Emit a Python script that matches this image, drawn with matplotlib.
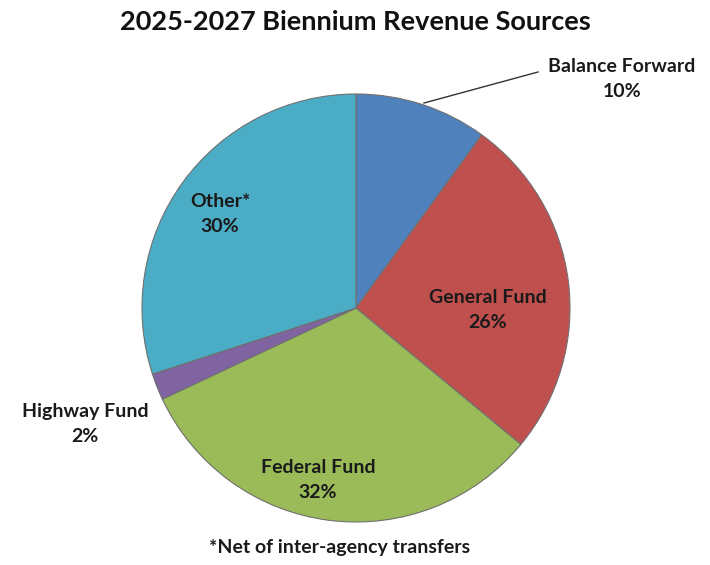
import matplotlib.pyplot as plt

# revenue sources, percent of total (clockwise from 12 o'clock)
sources = ["Balance Forward", "General Fund", "Federal Fund", "Highway Fund", "Other*"]
shares = [10, 26, 32, 2, 30]
colors = ["#4F81BD", "#C0504D", "#9BBB59", "#8064A2", "#4BACC6"]

plt.rcParams['font.family'] = ['Lato', 'DejaVu Sans']

W, H = 710, 565
fig = plt.figure(figsize=(W / 100, H / 100), dpi=100)
ax = fig.add_axes([0, 0, 1, 1])

# pixel-like coords with y pointing down, so angles are flipped
cx, cy, r = 356, 308, 214
ax.pie(shares, colors=colors, startangle=-90, counterclock=True,
       center=(cx, cy), radius=r,
       wedgeprops=dict(edgecolor='#707070', linewidth=0.8))
ax.set_xlim(0, W)
ax.set_ylim(H, 0)
ax.set_aspect('equal')
ax.axis('off')

ax.text(355, 22, "2025-2027 Biennium Revenue Sources", ha='center', va='center',
        fontsize=19.5, fontweight='bold', color='#111111')

label_pos = {
    "Balance Forward": (622, 79),
    "General Fund": (488, 310),
    "Federal Fund": (318, 480),
    "Highway Fund": (85, 424),
    "Other*": (220, 214),
}
for name, val in zip(sources, shares):
    x, y = label_pos[name]
    ax.text(x, y, f"{name}\n{val}%", ha='center', va='center', fontsize=14,
            fontweight='bold', color='#1a1a1a', linespacing=1.55)

# leader line for Balance Forward
ax.plot([424, 538], [103, 72], color='#333333', linewidth=1)

ax.text(340, 548, "*Net of inter-agency transfers", ha='center', va='center',
        fontsize=14, fontweight='bold', color='#1a1a1a')

fig.savefig("out.png", dpi=100)
